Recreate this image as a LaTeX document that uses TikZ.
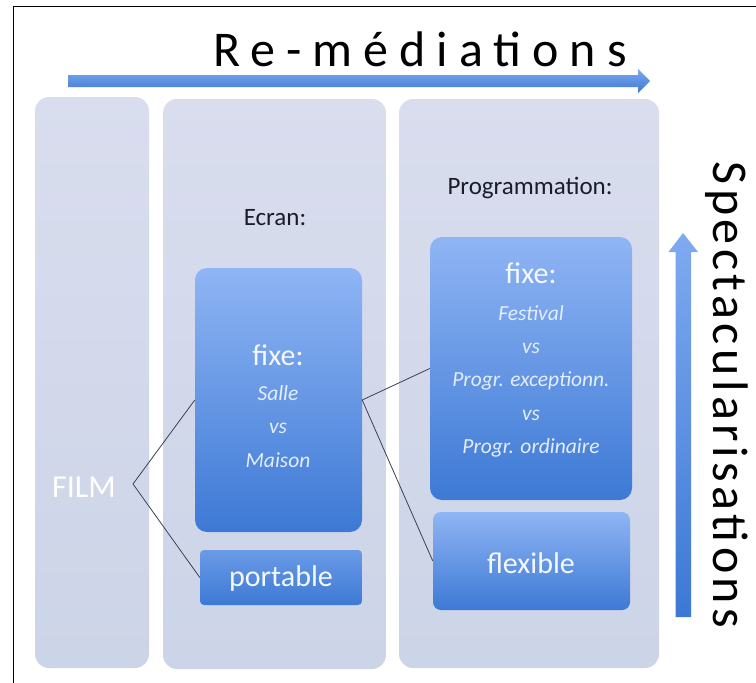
\documentclass[tikz,border=0pt]{standalone}
\usepackage{fontspec}
\setmainfont{Carlito}
\usetikzlibrary{shapes.geometric}
\definecolor{colTop}{HTML}{D9DDEE}
\definecolor{colBot}{HTML}{CCD4E7}
\definecolor{blueTop}{HTML}{8FB5F4}
\definecolor{blueBot}{HTML}{3D79D5}
\definecolor{portTop}{HTML}{6A9BE6}
\definecolor{arrTop}{HTML}{7FA9EE}
\definecolor{arrBot}{HTML}{3C78D4}
\definecolor{vaTop}{HTML}{7FAAF0}
\definecolor{darktxt}{HTML}{1B1C2A}
\definecolor{boxtxt}{HTML}{F4F8FF}
\definecolor{itxt}{HTML}{E4EDFF}
\definecolor{linkcol}{HTML}{3A4058}
\tikzset{
  colbox/.style={shade, top color=colTop, bottom color=colBot, rounded corners=14pt, draw=none, minimum width=#1},
  bluebox/.style={shade, top color=blueTop, bottom color=blueBot, rounded corners=12pt, draw=none},
  lbl/.style={text=darktxt, font=\fontsize{25}{28}\selectfont, inner sep=0pt},
  bigw/.style={text=boxtxt, font=\fontsize{30}{34}\selectfont, inner sep=0pt},
  ital/.style={text=itxt, font=\fontsize{21.5}{24}\selectfont\itshape, inner sep=0pt},
  link/.style={draw=linkcol, line width=0.8pt},
}
\begin{document}
\begin{tikzpicture}[x=1pt,y=-1pt]
\useasboundingbox (0,0) rectangle (756,683);
\fill[white] (0,0) rectangle (756,683);
\draw[black, line width=1pt] (13,683) -- (13,6) -- (756,6);

% title
\node[anchor=base, inner sep=0pt, font=\fontsize{50}{56}\selectfont\addfontfeature{LetterSpace=22}] (title) at (420,66) {Re-médiations};
% horizontal arrow
\coordinate (ha1) at (68,81);
\coordinate (ha2) at (650,81);
\shade[top color=arrTop, bottom color=arrBot] (ha1) ++(0,-6) -- ++(570,0) -- ++(0,-6) -- (ha2) -- ++(-12,12) -- ++(0,-6) -- ++(-570,0) -- cycle;

% columns
\node[colbox=114pt, minimum height=571pt] (filmcol) at (92,382.5) {};
\node[colbox=223pt, minimum height=570pt] (ecrancol) at (274.5,384) {};
\node[colbox=260pt, minimum height=569pt] (progcol) at (529,383.5) {};

% labels
\node[lbl] (ecran) at (275,218) {Ecran:};
\node[lbl] (prog) at (530,188) {Programmation:};

% blue boxes
\node[bluebox, minimum width=167pt, minimum height=264pt] (efixe) at (278.5,400) {};
\node[bluebox, rounded corners=4pt, top color=portTop, minimum width=162pt, minimum height=55pt] (portable) at (281,577.5) {};
\node[bluebox, minimum width=202pt, minimum height=263pt] (pfixe) at (531,368.5) {};
\node[bluebox, rounded corners=8pt, minimum width=197pt, minimum height=98pt] (flexible) at (531.5,561) {};

% texts
\node[bigw] (efixeT) at (278,355) {fixe:};
\node[ital] (salle) at (278,393) {Salle};
\node[ital] (vs1) at (278,428) {vs};
\node[ital] (maison) at (278,460) {Maison};
\node[bigw] (portT) at (281,578) {portable};

\node[bigw] (pfixeT) at (531,273) {fixe:};
\node[ital] (fest) at (531,313) {Festival};
\node[ital] (vs2) at (531,348) {vs};
\node[ital] (exc) at (531,381) {Progr. exceptionn.};
\node[ital] (vs3) at (531,415) {vs};
\node[ital] (ord) at (531,448) {Progr. ordinaire};
\node[bigw] (flexT) at (531,563) {flexible};

\node[bigw, text=white, font=\fontsize{32}{36}\selectfont] (film) at (84,487) {FILM};

% connectors
\coordinate (fj) at (133,484);
\draw[link] (efixe.west) -- (fj) -- (portable.west);
\draw[link] (pfixe.west) -- (efixe.east) -- (flexible.west);

% vertical arrow
\coordinate (va1) at (683,617);
\coordinate (va2) at (683,233);
\shade[top color=vaTop, bottom color=arrBot] (va1) ++(-7.5,0) -- ++(0,-365) -- ++(-7,0) -- (va2) -- ++(15,19) -- ++(-7,0) -- ++(0,365) -- cycle;

\node[rotate=-90, anchor=base, inner sep=0pt, font=\fontsize{50}{56}\selectfont\addfontfeature{LetterSpace=9}] (spec) at (713,395) {Spectacularisations};
\end{tikzpicture}
\end{document}
